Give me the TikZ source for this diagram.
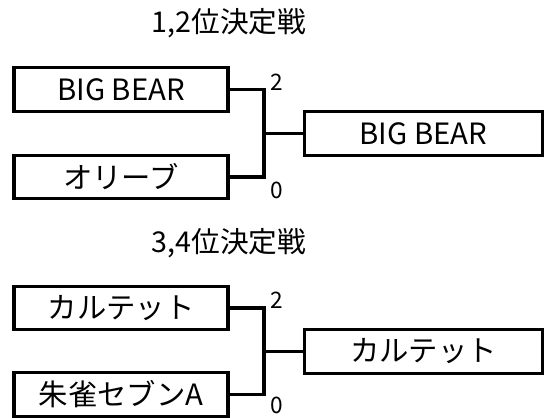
\documentclass[tikz,border=0pt]{standalone}
\usepackage{fontspec}
\setmainfont{Noto Sans CJK JP}
\usetikzlibrary{positioning}

\begin{document}
\begin{tikzpicture}[x=0.75pt,y=-0.75pt,
    team/.style={draw,line width=2.3pt,minimum width=160.5pt,minimum height=32.5pt,inner sep=0pt,font=\fontsize{22}{26}\selectfont},
    winner/.style={team,minimum width=179pt},
    title/.style={font=\fontsize{21.5}{26}\selectfont},
    score/.style={font=\fontsize{17}{20}\selectfont},
    bracket/.style={line width=2.3pt}]
      \useasboundingbox (0,0) rectangle (552,417);
      % 1,2位決定戦
      \node[title] (t1) at (229,23) {1,2位決定戦};
      \node[team] (a1) at (121,89.5) {BIG BEAR};
      \node[team] (b1) at (121,177) {オリーブ};
      \node[winner] (w1) at (423.5,133.5) {BIG BEAR};
      \coordinate (j1) at (264,133.5);
      \draw[bracket] (a1.east) -| (j1) |- (b1.east);
      \draw[bracket] (j1) -- (w1.west);
      \node[score] (s1a) at (277,82) {2};
      \node[score] (s1b) at (277,190) {0};
      % 3,4位決定戦
      \node[title] (t2) at (229,243) {3,4位決定戦};
      \node[team] (a2) at (121,308) {カルテット};
      \node[team] (b2) at (121,394.5) {朱雀セブンA};
      \node[winner] (w2) at (423.5,351.5) {カルテット};
      \coordinate (j2) at (264,351.5);
      \draw[bracket] (a2.east) -| (j2) |- (b2.east);
      \draw[bracket] (j2) -- (w2.west);
      \node[score] (s2a) at (277,300) {2};
      \node[score] (s2b) at (277,405) {0};
    \end{tikzpicture}
\end{document}
